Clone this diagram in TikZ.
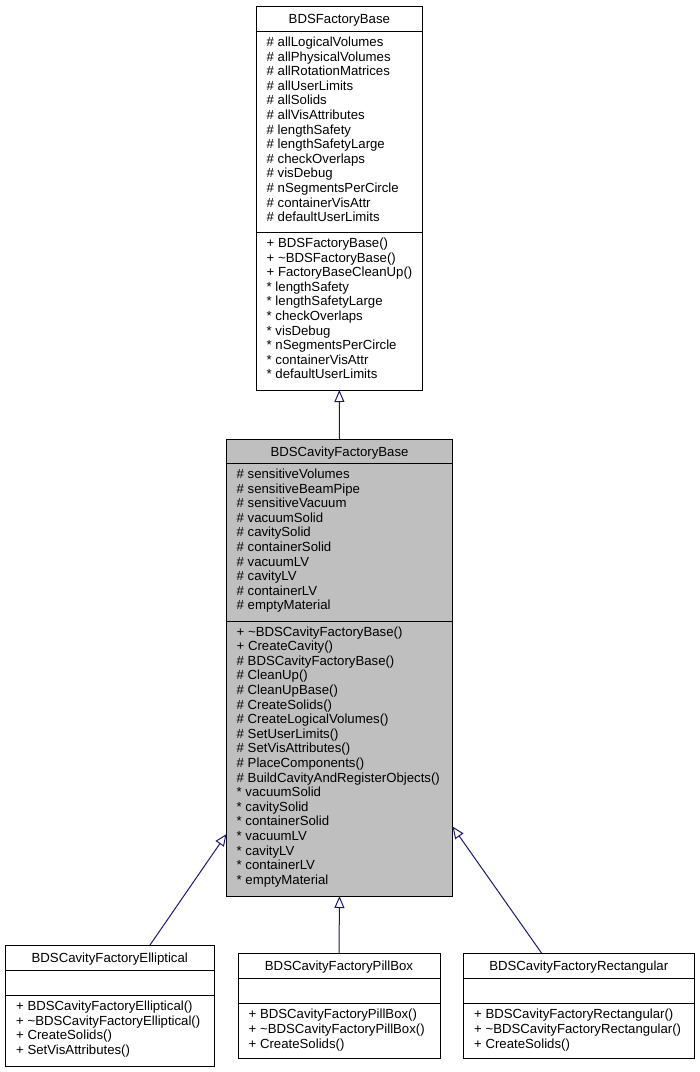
\documentclass[tikz,border=0pt]{standalone}
\usepackage{fontspec}
\setmainfont{Liberation Sans}
\usetikzlibrary{arrows.meta}
\definecolor{arrowblue}{HTML}{191970}
\definecolor{boxgray}{HTML}{BFBFBF}
\tikzset{
  classbox/.style={draw=black, line width=1pt, fill=white, anchor=north west, inner sep=0pt, outer sep=0pt},
  grayclass/.style={classbox, fill=boxgray},
  sepline/.style={draw=black, line width=1pt},
  txt/.style={inner sep=0pt, outer sep=0pt, anchor=base west, font=\fontsize{13.2}{14.6}\selectfont},
  ttl/.style={inner sep=0pt, outer sep=0pt, anchor=base, font=\fontsize{13.2}{14.6}\selectfont},
  inh/.style={draw=arrowblue, line width=1pt, -{Triangle[open, length=12pt, width=10pt]}}
}
\newcommand\classlines[4]{%
  \foreach \t [count=\i] in {#4} \node[txt] (#3-\i) at (#1, {#2+(\i-1)*14.6}) {\t};%
}
\begin{document}
\begin{tikzpicture}[x=1pt, y=-1pt]
\useasboundingbox (0,0) rectangle (700,1072);

% ---------- BDSFactoryBase ----------
\node[classbox, minimum width=166.7pt, minimum height=384pt] (fb) at (256,6) {};
\draw[sepline] (256,31.7) -- (422.7,31.7);
\draw[sepline] (256,232.5) -- (422.7,232.5);
\node[ttl] (fbt) at (339.35,23.5) {BDSFactoryBase};
\classlines{266.7}{46.5}{fa}{{\# allLogicalVolumes},{\# allPhysicalVolumes},{\# allRotationMatrices},{\# allUserLimits},{\# allSolids},{\# allVisAttributes},{\# lengthSafety},{\# lengthSafetyLarge},{\# checkOverlaps},{\# visDebug},{\# nSegmentsPerCircle},{\# containerVisAttr},{\# defaultUserLimits}}
\classlines{266.7}{247.5}{fm}{{+ BDSFactoryBase()},{+ \textasciitilde BDSFactoryBase()},{+ FactoryBaseCleanUp()},{* lengthSafety},{* lengthSafetyLarge},{* checkOverlaps},{* visDebug},{* nSegmentsPerCircle},{* containerVisAttr},{* defaultUserLimits}}

% ---------- BDSCavityFactoryBase ----------
\node[grayclass, minimum width=226pt, minimum height=457pt] (cav) at (226.5,439) {};
\draw[sepline] (226.5,463.5) -- (452.5,463.5);
\draw[sepline] (226.5,621) -- (452.5,621);
\node[ttl] (cavt) at (339.5,456) {BDSCavityFactoryBase};
\classlines{236.7}{478.5}{ca}{{\# sensitiveVolumes},{\# sensitiveBeamPipe},{\# sensitiveVacuum},{\# vacuumSolid},{\# cavitySolid},{\# containerSolid},{\# vacuumLV},{\# cavityLV},{\# containerLV},{\# emptyMaterial}}
\classlines{236.7}{636}{cm}{{+ \textasciitilde BDSCavityFactoryBase()},{+ CreateCavity()},{\# BDSCavityFactoryBase()},{\# CleanUp()},{\# CleanUpBase()},{\# CreateSolids()},{\# CreateLogicalVolumes()},{\# SetUserLimits()},{\# SetVisAttributes()},{\# PlaceComponents()},{\# BuildCavityAndRegisterObjects()},{* vacuumSolid},{* cavitySolid},{* containerSolid},{* vacuumLV},{* cavityLV},{* containerLV},{* emptyMaterial}}

% ---------- BDSCavityFactoryElliptical ----------
\node[classbox, minimum width=208.5pt, minimum height=121pt] (ell) at (5.5,945) {};
\draw[sepline] (5.5,970.5) -- (214,970.5);
\draw[sepline] (5.5,995.5) -- (214,995.5);
\node[ttl] (ellt) at (109.75,962.5) {BDSCavityFactoryElliptical};
\classlines{16.2}{1010.5}{em}{{+ BDSCavityFactoryElliptical()},{+ \textasciitilde BDSCavityFactoryElliptical()},{+ CreateSolids()},{+ SetVisAttributes()}}

% ---------- BDSCavityFactoryPillBox ----------
\node[classbox, minimum width=202pt, minimum height=105.3pt] (pill) at (238,953) {};
\draw[sepline] (238,978.5) -- (440,978.5);
\draw[sepline] (238,1003.5) -- (440,1003.5);
\node[ttl] (pillt) at (339,970.5) {BDSCavityFactoryPillBox};
\classlines{248.7}{1018.8}{pm}{{+ BDSCavityFactoryPillBox()},{+ \textasciitilde BDSCavityFactoryPillBox()},{+ CreateSolids()}}

% ---------- BDSCavityFactoryRectangular ----------
\node[classbox, minimum width=230.5pt, minimum height=105.3pt] (rect) at (463.5,953) {};
\draw[sepline] (463.5,978.5) -- (694,978.5);
\draw[sepline] (463.5,1003.5) -- (694,1003.5);
\node[ttl] (rectt) at (578.75,970.5) {BDSCavityFactoryRectangular};
\classlines{474.2}{1018.8}{rm}{{+ BDSCavityFactoryRectangular()},{+ \textasciitilde BDSCavityFactoryRectangular()},{+ CreateSolids()}}

% ---------- inheritance connectors ----------
\draw[inh] (cav.north) -- (fb.south);
\draw[inh] (pill.north) -- (cav.south);
\draw[inh] ([xshift=144.5pt]ell.north west) -- ([yshift=62pt]cav.south west);
\draw[inh] ([xshift=78pt]rect.north west) -- ([yshift=69.5pt]cav.south east);
\end{tikzpicture}
\end{document}
